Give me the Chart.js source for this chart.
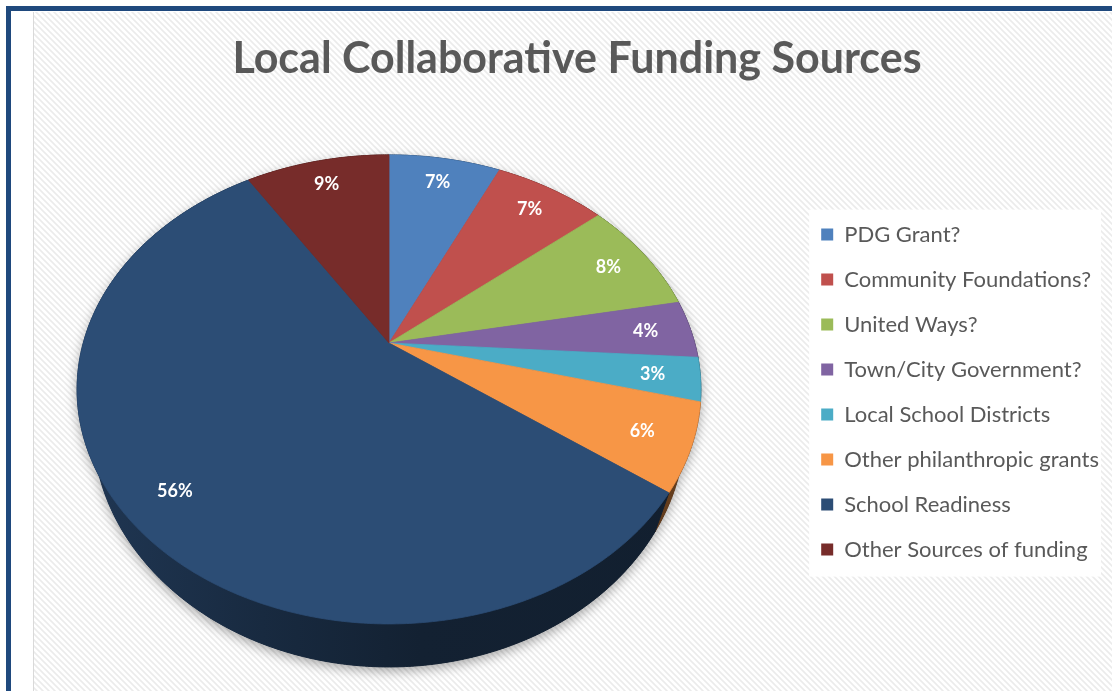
<!DOCTYPE html>
<html>
<head>
<meta charset="utf-8">
<title>Local Collaborative Funding Sources</title>
<script src="https://cdn.jsdelivr.net/npm/chart.js@4.4.1/dist/chart.umd.min.js"></script>
<style>
  html, body { margin: 0; padding: 0; background: #fff; }
  canvas { display: block; }
</style>
</head>
<body>
<canvas id="fundingChart" width="1112" height="691"></canvas>
<script>
// funding sources and their share of the total (percent)
const categories = [
  'PDG Grant?',
  'Community Foundations?',
  'United Ways?',
  'Town/City Government?',
  'Local School Districts',
  'Other philanthropic grants',
  'School Readiness',
  'Other Sources of funding'
];
const shares = [7, 7, 8, 4, 3, 6, 56, 9];
const sliceColors = ['#4F81BD', '#C0504D', '#9BBB59', '#8064A2', '#4BACC6', '#F79646', '#2C4D75', '#772C2A'];

// tilted pie: centre, radii of the projected disc, perspective strength,
// wall height and how much the wall leans in towards the middle
const PIE = { cx: 389, cy: 343, rx: 305.7, ry: 225.3, tilt: 0.198, depth: 34.5, lean: 0.05, labelAt: 0.85 };

// chart.js angle (0 = 3 o'clock, clockwise) -> point on the tilted disc
function project(angle, r, down) {
  const u = Math.cos(angle) * r;
  const v = -Math.sin(angle) * r;
  const w = 1 + PIE.tilt * v;
  const x = PIE.cx + PIE.rx * u / w;
  const y = PIE.cy - PIE.ry * v / w;
  if (!down) return { x, y };
  return { x: x - (x - PIE.cx) * PIE.lean, y: y + PIE.depth / w };
}

function rim(a0, a1, down) {
  const pts = [];
  const steps = Math.max(2, Math.ceil((a1 - a0) / (Math.PI / 360)));
  for (let s = 0; s <= steps; s++) pts.push(project(a0 + (a1 - a0) * s / steps, 1, down));
  return pts;
}

function trace(ctx, pts) {
  ctx.moveTo(pts[0].x, pts[0].y);
  for (let i = 1; i < pts.length; i++) ctx.lineTo(pts[i].x, pts[i].y);
  ctx.closePath();
}

function shade(hex, f) {
  const n = parseInt(hex.slice(1), 16);
  const r = Math.round(((n >> 16) & 255) * f);
  const g = Math.round(((n >> 8) & 255) * f);
  const b = Math.round((n & 255) * f);
  return 'rgb(' + r + ',' + g + ',' + b + ')';
}

function hatchPattern(ctx) {
  const t = document.createElement('canvas');
  t.width = t.height = 6;
  const c = t.getContext('2d');
  c.fillStyle = '#ffffff';
  c.fillRect(0, 0, 6, 6);
  c.strokeStyle = '#ebebeb';
  c.lineWidth = 1.6;
  c.beginPath();
  c.moveTo(-1, -1); c.lineTo(7, 7);
  c.moveTo(-1, 5); c.lineTo(1, 7);
  c.moveTo(5, -1); c.lineTo(7, 1);
  c.stroke();
  return ctx.createPattern(t, 'repeat');
}

// page frame, striped background and white panel behind the legend
const backdrop = {
  id: 'backdrop',
  beforeDraw(chart) {
    const { ctx, width, height } = chart;
    ctx.save();
    ctx.fillStyle = '#ffffff';
    ctx.fillRect(0, 0, width, height);
    ctx.fillStyle = hatchPattern(ctx);
    ctx.fillRect(34, 12, width - 34, height - 12);
    ctx.fillStyle = '#d9d9d9';
    ctx.fillRect(33, 12, 1, height - 12);
    ctx.fillStyle = '#1F497D';
    ctx.fillRect(6, 6, width - 6, 5);
    ctx.fillRect(6, 6, 5, height - 6);

    const lg = chart.legend;
    const lab = lg.options.labels;
    const rowH = lab.font.size + lab.padding;
    const n = lg.legendItems.length;
    const top = lg.top + lab.padding;
    const left = lg.left + lab.padding - 12;
    ctx.fillStyle = '#ffffff';
    ctx.fillRect(left, top - 14, lg.right - 8 - left, n * rowH - lab.padding + 30);
    ctx.restore();
  }
};

// draws the pie as a tilted disc with a side wall, using the arc angles chart.js computed
const pie3d = {
  id: 'pie3d',
  beforeDatasetsDraw(chart) {
    const ctx = chart.ctx;
    const arcs = chart.getDatasetMeta(0).data;
    const colors = chart.data.datasets[0].backgroundColor;
    const values = chart.data.datasets[0].data;
    ctx.save();
    ctx.lineJoin = 'round';

    // soft shadow under the disc
    ctx.save();
    ctx.shadowColor = 'rgba(0,0,0,0.35)';
    ctx.shadowBlur = 12;
    ctx.shadowOffsetY = 4;
    ctx.fillStyle = '#16243a';
    ctx.beginPath();
    trace(ctx, rim(0, Math.PI * 2, false));
    trace(ctx, rim(0, Math.PI * 2, true));
    ctx.fill();
    ctx.restore();

    // side walls
    arcs.forEach((arc, i) => {
      if (arc.circumference <= 0) return;
      const c = colors[i];
      const g = ctx.createLinearGradient(PIE.cx - PIE.rx * 1.03, 0, PIE.cx + PIE.rx * 1.03, 0);
      g.addColorStop(0, shade(c, 0.72));
      g.addColorStop(0.3, shade(c, 0.55));
      g.addColorStop(0.55, shade(c, 0.43));
      g.addColorStop(1, shade(c, 0.4));
      const pts = rim(arc.startAngle, arc.endAngle, false)
        .concat(rim(arc.startAngle, arc.endAngle, true).reverse());
      ctx.fillStyle = g;
      ctx.strokeStyle = g;
      ctx.lineWidth = 1;
      ctx.beginPath();
      trace(ctx, pts);
      ctx.fill();
      ctx.stroke();
    });

    // top faces
    arcs.forEach((arc, i) => {
      if (arc.circumference <= 0) return;
      const pts = [{ x: PIE.cx, y: PIE.cy }].concat(rim(arc.startAngle, arc.endAngle, false));
      ctx.fillStyle = colors[i];
      ctx.strokeStyle = colors[i];
      ctx.lineWidth = 0.8;
      ctx.beginPath();
      trace(ctx, pts);
      ctx.fill();
      ctx.stroke();
    });

    // percentage labels
    ctx.fillStyle = '#ffffff';
    ctx.font = 'bold 18px Lato';
    ctx.textAlign = 'center';
    ctx.textBaseline = 'middle';
    arcs.forEach((arc, i) => {
      if (arc.circumference <= 0) return;
      const p = project((arc.startAngle + arc.endAngle) / 2, PIE.labelAt, false);
      ctx.fillText(values[i] + '%', p.x, p.y);
    });
    ctx.restore();
    return false;
  }
};

new Chart(document.getElementById('fundingChart'), {
  type: 'pie',
  data: {
    labels: categories,
    datasets: [{
      data: shares,
      backgroundColor: sliceColors,
      borderWidth: 0
    }]
  },
  options: {
    responsive: false,
    animation: false,
    events: [],
    layout: { padding: { left: 45, right: 3, top: 12, bottom: 0 } },
    plugins: {
      title: {
        display: true,
        text: 'Local Collaborative Funding Sources',
        color: '#595959',
        font: { family: 'Lato', size: 43, weight: 'bold' },
        padding: { top: 21, bottom: 116 }
      },
      legend: {
        position: 'right',
        align: 'start',
        fullSize: false,
        labels: {
          color: '#595959',
          font: { family: 'Lato', size: 22 },
          boxWidth: 12,
          boxHeight: 12,
          padding: 23
        }
      },
      tooltip: { enabled: false }
    }
  },
  plugins: [backdrop, pie3d]
});
</script>
</body>
</html>
